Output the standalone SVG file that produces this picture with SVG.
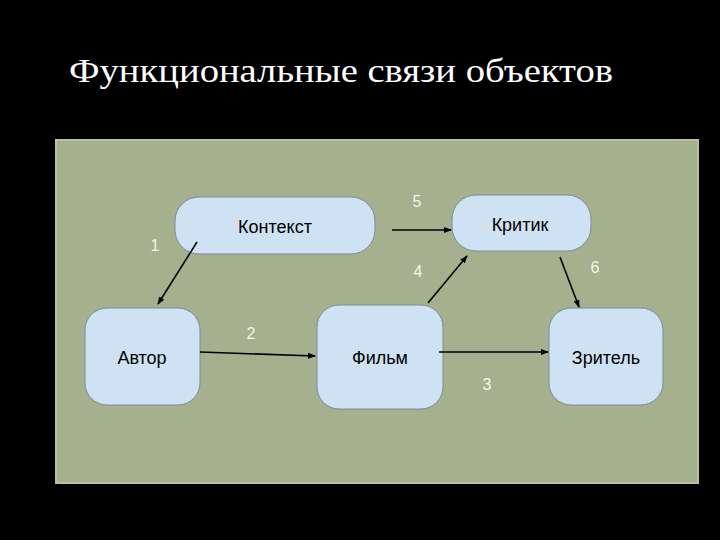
<svg xmlns="http://www.w3.org/2000/svg" width="720" height="540" viewBox="0 0 720 540">
<defs>
<style>
.node{fill:#cfe2f3;stroke:#7d8a96;stroke-width:1}
.lbl{font-family:"Liberation Sans",Arial,sans-serif;font-size:18px;fill:#000;text-anchor:middle}
.num{font-family:"Liberation Sans",Arial,sans-serif;font-size:16px;fill:#f4f6e6;text-anchor:middle}
.conn{stroke:#000;stroke-width:1.6;fill:none;marker-end:url(#ah)}
</style>
<marker id="ah" markerWidth="8" markerHeight="8" refX="7" refY="4" orient="auto" markerUnits="userSpaceOnUse">
<path d="M0,1 L8,4 L0,7 Z" fill="#000"/>
</marker>
</defs>
<rect x="0" y="0" width="720" height="540" fill="#000"/>
<text x="69" y="82" font-family="'Liberation Serif','DejaVu Serif',serif" font-size="34" fill="#fff" textLength="544" lengthAdjust="spacingAndGlyphs">Функциональные связи объектов</text>
<rect id="panel" x="56" y="140" width="642" height="343" fill="#a4b08e" stroke="#b8c1a4" stroke-width="2"/>
<g id="labels">
<text class="num" x="155" y="251">1</text>
<text class="num" x="251" y="339">2</text>
<text class="num" x="487" y="390">3</text>
<text class="num" x="418" y="277">4</text>
<text class="num" x="417" y="207">5</text>
<text class="num" x="595" y="273">6</text>
</g>
<g id="kontekst">
<rect class="node" x="175" y="197" width="200" height="57" rx="24"/>
<text class="lbl" x="275" y="233">Контекст</text>
</g>
<g id="kritik">
<rect class="node" x="452" y="195" width="139" height="56" rx="24"/>
<text class="lbl" x="520" y="231">Критик</text>
</g>
<g id="avtor">
<rect class="node" x="85" y="308" width="115" height="97" rx="22"/>
<text class="lbl" x="142" y="364">Автор</text>
</g>
<g id="film">
<rect class="node" x="317" y="305" width="126" height="104" rx="22"/>
<text class="lbl" x="380" y="364">Фильм</text>
</g>
<g id="zritel">
<rect class="node" x="549" y="308" width="114" height="97" rx="22"/>
<text class="lbl" x="606" y="364">Зритель</text>
</g>
<g id="connectors">
<line class="conn" x1="197" y1="242" x2="158" y2="304"/>
<line class="conn" x1="200" y1="352" x2="315" y2="356"/>
<line class="conn" x1="439" y1="352" x2="548" y2="352"/>
<line class="conn" x1="428" y1="303" x2="467" y2="256"/>
<line class="conn" x1="392" y1="230" x2="451" y2="230"/>
<line class="conn" x1="560" y1="257" x2="579" y2="307"/>
</g>
</svg>
